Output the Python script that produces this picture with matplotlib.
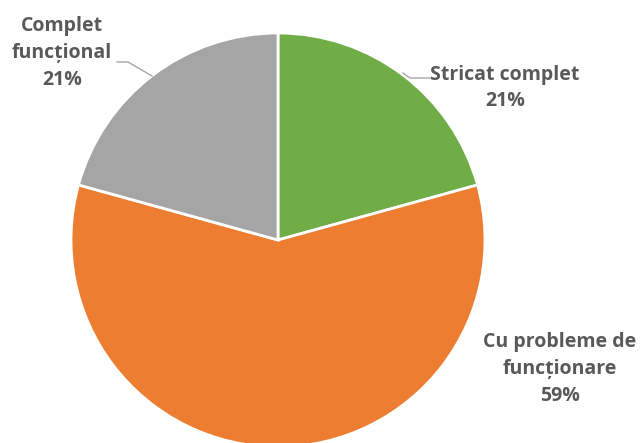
import matplotlib.pyplot as plt

labels = ['Stricat complet', 'Cu probleme de\nfuncționare', 'Complet\nfuncțional']
values = [29, 82, 29]
colors = ['#70AD47', '#ED7D31', '#A5A5A5']

H = 443
fig = plt.figure(figsize=(6.41, 4.43), dpi=100)
ax = fig.add_axes([0, 0, 1, 1])

ax.pie(values, colors=colors, startangle=90, counterclock=False,
       center=(278, H - 240), radius=207,
       wedgeprops=dict(edgecolor='white', linewidth=2))

ax.set_xlim(0, 641)
ax.set_ylim(0, H)
ax.set_aspect('equal')
ax.axis('off')

total = sum(values)
pcts = [f'{round(v / total * 100)}%' for v in values]
label_pos = [(505, 88), (560, 369), (62, 53)]
for lab, pct, (x, y) in zip(labels, pcts, label_pos):
    ax.text(x, H - y, lab + '\n' + pct, ha='center', va='center',
            fontsize=14, fontweight='bold', color='#595959',
            family='Open Sans', linespacing=1.45)

# leader lines
ax.plot([430, 410, 403], [H - 78, H - 78, H - 73], color='#A6A6A6', lw=1)
ax.plot([117, 128, 152], [H - 62, H - 62, H - 76], color='#A6A6A6', lw=1)

fig.savefig('out.png', dpi=100)
